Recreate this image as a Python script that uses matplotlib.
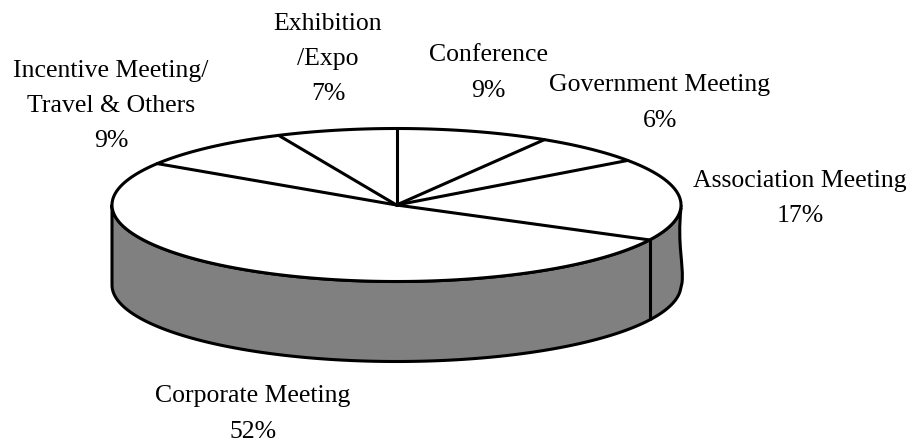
import numpy as np
import matplotlib
matplotlib.use("Agg")
import matplotlib.pyplot as plt
from matplotlib.path import Path
from matplotlib.patches import PathPatch

# Shares clockwise from 12 o'clock, labels show them rounded
names = ["Conference", "Government Meeting", "Association Meeting",
         "Corporate Meeting", "Incentive Meeting/\nTravel & Others", "Exhibition\n/Expo"]
shares = [8.7, 6.4, 17.45, 51.55, 9.1, 6.8]
label_x = [488, 660, 800, 253, 111, 328]
label_y = [73, 103, 198.5, 414, 106, 59]

cx, cy = 396.5, 205
a, b = 284.5, 76.5
depth = 80
lw = 2.2

plt.rcParams['font.family'] = ['Liberation Serif', 'DejaVu Serif']
fig = plt.figure(figsize=(9.1, 4.41), dpi=100)
ax = fig.add_axes([0, 0, 1, 1])
ax.set_xlim(0, 910)
ax.set_ylim(441, 0)
ax.axis('off')


def rim(theta, drop=0):
    # theta in radians, clockwise from the top
    return cx + a * np.sin(theta), cy - b * np.cos(theta) + drop


# side wall: wavy right edge, lower rim, left edge, then back along the top rim
t = np.radians(np.linspace(93, 270, 200))
x1, y1 = rim(t, depth)
verts = [(cx + a, cy + 3), (cx + a - 4, cy + 40), (cx + a + 3, cy + 60), (cx + a + 1, cy + 78)]
codes = [Path.MOVETO, Path.CURVE4, Path.CURVE4, Path.CURVE4]
verts += list(zip(x1, y1))
codes += [Path.LINETO] * len(x1)
verts += [(cx - a, cy)]
codes += [Path.LINETO]
t2 = np.radians(np.linspace(270, 90, 200))
x2, y2 = rim(t2)
verts += list(zip(x2, y2))
codes += [Path.LINETO] * len(x2)
ax.add_patch(PathPatch(Path(verts, codes), facecolor='#808080', edgecolor='black', lw=lw, joinstyle='round'))

# top face
tt = np.linspace(0, 2 * np.pi, 400)
xt, yt = rim(tt)
ax.fill(xt, yt, facecolor='white', edgecolor='black', lw=lw, zorder=3)

# slice lines
edges = np.cumsum([0] + shares) / sum(shares) * 2 * np.pi
for e in edges[:-1]:
    xe, ye = rim(e)
    ax.plot([cx, xe], [cy, ye], color='black', lw=lw, zorder=4, solid_capstyle='round')

# vertical edge where the association slice meets the corporate slice
xa, ya = rim(edges[3])
xb, yb = rim(edges[3], depth)
ax.plot([xa, xb], [ya, yb], color='black', lw=lw, zorder=2, solid_capstyle='butt')

for name, s, x, y in zip(names, shares, label_x, label_y):
    ax.text(x, y, f"{name}\n{s:.0f}%", ha='center', va='center', fontsize=18.5, color='black',
            linespacing=1.78, zorder=5)

fig.savefig("out.png", dpi=100)
